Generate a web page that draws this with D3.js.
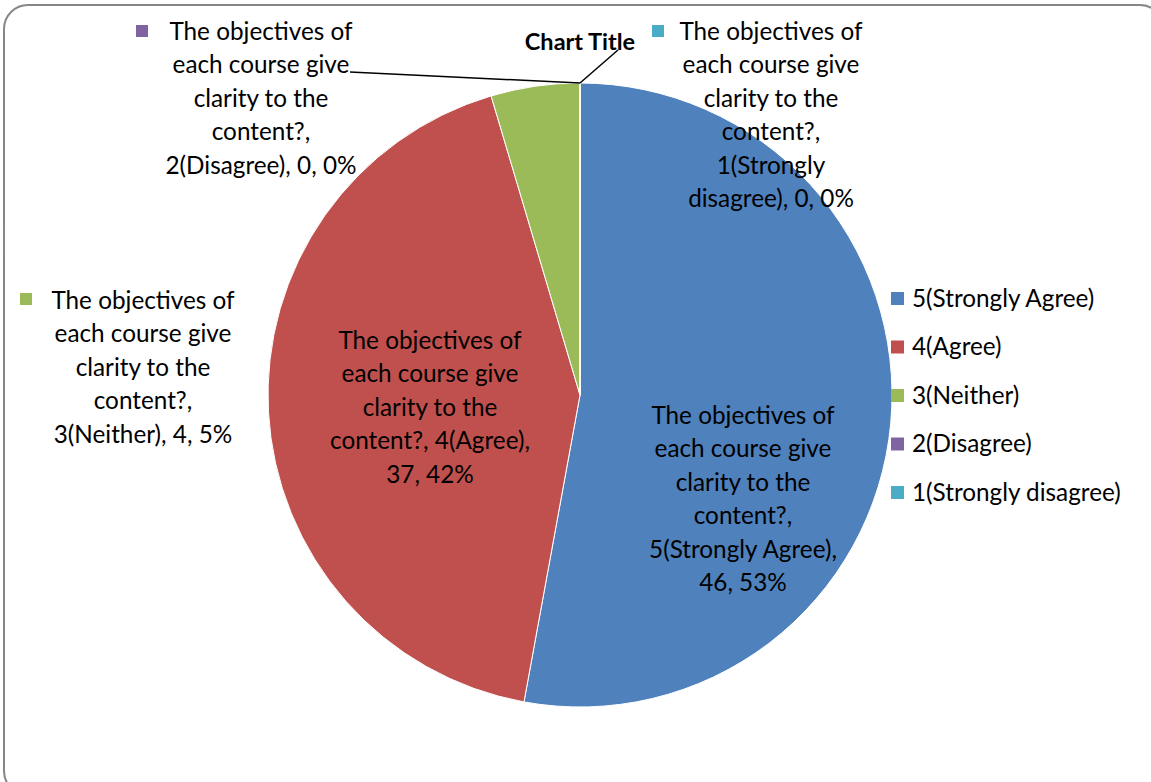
<!DOCTYPE html>
<html>
<head>
<meta charset="utf-8">
<script src="https://cdn.jsdelivr.net/npm/d3@7"></script>
<style>
  body { margin: 0; background: #fff; }
  text { font-family: Lato, "Open Sans", sans-serif; fill: #000; }
</style>
</head>
<body>
<div id="chart"></div>
<script>
// data
var question = "The objectives of each course give clarity to the content?";
var categories = ["5(Strongly Agree)", "4(Agree)", "3(Neither)", "2(Disagree)", "1(Strongly disagree)"];
var counts = [46, 37, 4, 0, 0];
var percentLabels = ["53%", "42%", "5%", "0%", "0%"];
var colors = ["#4F81BD", "#C0504D", "#9BBB59", "#8064A2", "#4BACC6"];

// label lines (as Excel wrapped them)
var labelLines = [
    ["The objectives of", "each course give", "clarity to the", "content?,", "5(Strongly Agree),", "46, 53%"],
    ["The objectives of", "each course give", "clarity to the", "content?, 4(Agree),", "37, 42%"],
    ["The objectives of", "each course give", "clarity to the", "content?,", "3(Neither), 4, 5%"],
    ["The objectives of", "each course give", "clarity to the", "content?,", "2(Disagree), 0, 0%"],
    ["The objectives of", "each course give", "clarity to the", "content?,", "1(Strongly", "disagree), 0, 0%"]
];
// label centre x / first baseline y, and whether a key square is drawn
var labelPos = [
    {x: 743, y: 423.5, key: false},
    {x: 430, y: 348.5, key: false},
    {x: 143, y: 308.5, key: true, kx: 20, ky: 293},
    {x: 261, y: 39.5, key: true, kx: 136, ky: 25},
    {x: 771, y: 39.5, key: true, kx: 652, ky: 25}
];

var width = 1151, height = 782;
var cx = 580, cy = 395, radius = 312;
var lineH = 33.5;
var fontSize = "24.3px";

var svg = d3.select("#chart").append("svg")
    .attr("width", width)
    .attr("height", height);

// chart area border
svg.append("rect")
    .attr("x", 4).attr("y", 5)
    .attr("width", 1160).attr("height", 790)
    .attr("rx", 24).attr("ry", 24)
    .attr("fill", "#fff")
    .attr("stroke", "#868686")
    .attr("stroke-width", 2);

var pie = d3.pie().sort(null).value(function(d) { return d; });
var arcs = pie(counts);
var arc = d3.arc().innerRadius(0).outerRadius(radius);

var g = svg.append("g").attr("transform", "translate(" + cx + "," + cy + ")");
g.selectAll("path")
    .data(arcs)
    .enter()
    .append("path")
    .attr("d", arc)
    .attr("fill", function(d, i) { return colors[i]; })
    .attr("stroke", "#fff")
    .attr("stroke-width", 1);

// leader lines for the two zero slices (start at the top of the pie)
var leaderEnds = [[350, 72], [618, 50]];
leaderEnds.forEach(function(p) {
    svg.append("line")
        .attr("x1", cx + Math.sin(arcs[3].startAngle) * radius)
        .attr("y1", cy - Math.cos(arcs[3].startAngle) * radius)
        .attr("x2", p[0]).attr("y2", p[1])
        .attr("stroke", "#000")
        .attr("stroke-width", 1.5);
});

// title
svg.append("text")
    .attr("x", 580).attr("y", 50)
    .attr("text-anchor", "middle")
    .style("font-size", "23.5px")
    .style("font-weight", "bold")
    .text("Chart Title");

// data labels
labelLines.forEach(function(lines, i) {
    var p = labelPos[i];
    var t = svg.append("text")
        .attr("text-anchor", "middle")
        .style("font-size", fontSize);
    lines.forEach(function(l, j) {
        t.append("tspan")
            .attr("x", p.x)
            .attr("y", p.y + j * lineH)
            .text(l);
    });
    if (p.key) {
        svg.append("rect")
            .attr("x", p.kx).attr("y", p.ky)
            .attr("width", 12).attr("height", 12)
            .attr("fill", colors[i]);
    }
});

// legend
var legend = svg.append("g").attr("transform", "translate(891,290)");
categories.forEach(function(c, i) {
    legend.append("rect")
        .attr("x", 0).attr("y", i * 48.5 + 2)
        .attr("width", 13).attr("height", 13)
        .attr("fill", colors[i]);
    legend.append("text")
        .attr("x", 21).attr("y", i * 48.5 + 16.5)
        .style("font-size", fontSize)
        .text(c);
});
</script>
</body>
</html>
